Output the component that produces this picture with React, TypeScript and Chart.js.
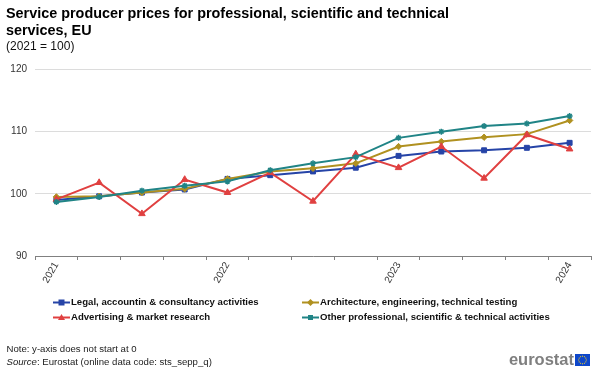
import React, { useEffect, useRef } from "react";
import { Chart, registerables } from "chart.js";

Chart.register(...registerables);

const categories = ["2021", "", "", "", "2022", "", "", "", "2023", "", "", "", "2024"];
const legal = [99.0, 99.6, 100.2, 100.7, 102.4, 103.0, 103.6, 104.2, 106.1, 106.8, 107.0, 107.4, 108.2];
const architecture = [99.5, 99.6, 100.2, 100.8, 102.4, 103.6, 104.1, 104.9, 107.6, 108.4, 109.1, 109.6, 111.8];
const advertising = [99.1, 101.8, 96.8, 102.3, 100.2, 103.4, 98.8, 106.4, 104.2, 107.6, 102.5, 109.5, 107.2];
const other = [98.7, 99.5, 100.5, 101.3, 102.0, 103.8, 104.9, 105.9, 109.0, 110.0, 110.9, 111.3, 112.5];
const titleLines = ["Service producer prices for professional, scientific and technical", "services, EU"];
const subtitleText = "(2021 = 100)";
const yTicks = [90, 100, 110, 120];

const FONT = "'Liberation Sans', Arial, sans-serif";

const overlay = {
  id: "overlay",
  afterDraw(chart: any) {
    const c = chart.ctx;
    c.save();
    c.textBaseline = "middle";
    c.textAlign = "left";
    const cols = [48, 297];
    const rows = [302.5, 317.5];
    const pos = [
      [cols[0], rows[0]],
      [cols[1], rows[0]],
      [cols[0], rows[1]],
      [cols[1], rows[1]],
    ];
    chart.data.datasets.forEach((ds: any, i: number) => {
      const [x, y] = pos[i];
      c.strokeStyle = ds.borderColor;
      c.lineWidth = 2;
      c.beginPath();
      c.moveTo(x + 5, y);
      c.lineTo(x + 22, y);
      c.stroke();
      c.fillStyle = ds.borderColor;
      const mx = x + 13.5;
      c.beginPath();
      if (ds.pointStyle === "rect") c.rect(mx - 3, y - 3, 6, 6);
      else if (ds.pointStyle === "rectRot") {
        c.moveTo(mx, y - 3.5); c.lineTo(mx + 3.5, y); c.lineTo(mx, y + 3.5); c.lineTo(mx - 3.5, y); c.closePath();
      } else if (ds.pointStyle === "triangle") {
        c.moveTo(mx, y - 3.5); c.lineTo(mx + 3.5, y + 2.5); c.lineTo(mx - 3.5, y + 2.5); c.closePath();
      } else c.rect(mx - 2.5, y - 2.5, 5, 5);
      c.fill();
      c.fillStyle = "#111";
      c.font = `bold 9.6px ${FONT}`;
      c.fillText(ds.label, x + 23, y);
    });

    c.fillStyle = "#222";
    c.font = `9.6px ${FONT}`;
    c.fillText("Note: y-axis does not start at 0", 6.5, 349);
    c.font = `italic 9.6px ${FONT}`;
    c.fillText("Source", 6.5, 362);
    const w = c.measureText("Source").width;
    c.font = `9.6px ${FONT}`;
    c.fillText(": Eurostat (online data code: sts_sepp_q)", 6.5 + w, 362);

    c.fillStyle = "#7f7f7f";
    c.font = `bold 16.5px ${FONT}`;
    c.textAlign = "right";
    c.fillText("eurostat", 574, 360);

    c.fillStyle = "#0e47cb";
    c.fillRect(575, 354, 15, 12);
    c.fillStyle = "#ffd617";
    for (let k = 0; k < 12; k++) {
      const a = (k * Math.PI) / 6;
      c.fillRect(582.5 + 3.8 * Math.cos(a) - 0.5, 360 + 3.8 * Math.sin(a) - 0.5, 1, 1);
    }
    c.restore();
  },
};

export default function App() {
  const ref = useRef<HTMLCanvasElement>(null);
  useEffect(() => {
    document.body.style.margin = "0";
    const mk = (label: string, data: number[], color: string, pointStyle: string, r: number, order: number) => ({
      label, data, borderColor: color, backgroundColor: color, borderWidth: 2, order,
      pointStyle, pointRadius: r, pointBorderWidth: pointStyle === "star" ? 1.5 : 1, tension: 0,
    });
    const chart = new Chart(ref.current!, {
      type: "line",
      data: {
        labels: categories,
        datasets: [
          mk("Legal, accountin & consultancy activities", legal, "#2644A7", "rect", 3.5, 4),
          mk("Architecture, engineering, technical testing", architecture, "#B09120", "rectRot", 3.2, 3),
          mk("Advertising & market research", advertising, "#E04040", "triangle", 3.8, 2),
          mk("Other professional, scientific & technical activities", other, "#208486", "star", 3, 1),
        ],
      },
      options: {
        animation: false,
        responsive: false,
        layout: { padding: { left: 6, right: 9, top: 0, bottom: 0 } },
        plugins: {
          legend: { display: false },
          tooltip: { enabled: false },
          title: {
            display: true, text: titleLines, align: "start", color: "#000",
            font: { family: FONT, size: 14.4, weight: "bold", lineHeight: 1.2 },
            padding: { top: 5, bottom: 0 },
          },
          subtitle: {
            display: true, text: subtitleText, align: "start", color: "#111",
            font: { family: FONT, size: 12 },
            padding: { top: 0, bottom: 15.5 },
          },
        },
        scales: {
          x: {
            offset: true,
            grid: { display: true, drawOnChartArea: false, drawTicks: true, tickLength: 4, offset: true, color: "#808080" },
            border: { color: "#808080" },
            ticks: {
              autoSkip: false, maxRotation: 60, minRotation: 60, color: "#333",
              font: { family: FONT, size: 10 }, padding: 0,
            },
            afterFit(s: any) { s.height = 115; },
          },
          y: {
            min: 90, max: 120,
            afterBuildTicks(s: any) { s.ticks = yTicks.map((value) => ({ value })); },
            grid: { color: "#dcdcdc", drawTicks: false, lineWidth: 1 },
            border: { display: false },
            ticks: { color: "#333", font: { family: FONT, size: 10 }, padding: 8 },
            afterFit(s: any) { s.width = 29; },
          },
        },
      } as any,
      plugins: [overlay],
    });
    return () => chart.destroy();
  }, []);
  return <canvas ref={ref} width={600} height={371} style={{ display: "block" }} />;
}
